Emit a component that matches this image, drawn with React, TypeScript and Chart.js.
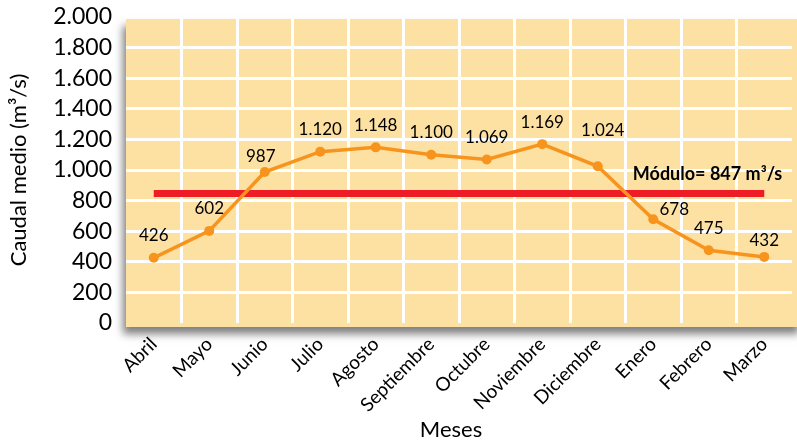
import React, { useEffect, useRef } from "react";
import { Chart, registerables } from "chart.js";

Chart.register(...registerables);

// ---- data ----
const meses = [
  "Abril", "Mayo", "Junio", "Julio", "Agosto", "Septiembre",
  "Octubre", "Noviembre", "Diciembre", "Enero", "Febrero", "Marzo",
];
const caudal = [426, 602, 987, 1120, 1148, 1100, 1069, 1169, 1024, 678, 475, 432];
const modulo = 847;
const moduloLabel = "Módulo= 847 m³/s";
const yMin = 0;
const yMax = 2000;
const yStep = 200;
const yTitle = "Caudal medio (m³/s)";
const xTitle = "Meses";

// ---- style ----
const FONT = "Lato, 'Noto Sans', sans-serif";
const BG = "#FDE1A3";
const ORANGE = "#F7941D";
const RED = "#EE1C24";
// label nudges (style only) for a few value labels
const labelNudge: Record<string, [number, number]> = {
  Junio: [-4, 7],
  Diciembre: [5, -14],
  Enero: [21, 12],
  Marzo: [0, 6],
};

const fmt = (n: number) => String(n).replace(/\B(?=(\d{3})+(?!\d))/g, ".");

const bgPlugin = {
  id: "plotBg",
  beforeDraw(chart: any) {
    const { ctx, chartArea: a } = chart;
    ctx.save();
    ctx.shadowColor = "rgba(0,0,0,0.5)";
    ctx.shadowBlur = 8;
    ctx.shadowOffsetX = -3;
    ctx.shadowOffsetY = 7;
    ctx.fillStyle = BG;
    ctx.fillRect(a.left, a.top + 2, a.right - a.left + 10, a.bottom - a.top + 2);
    ctx.restore();
  },
};

const textPlugin = {
  id: "texts",
  afterDatasetsDraw(chart: any) {
    const { ctx } = chart;
    const meta = chart.getDatasetMeta(0);
    ctx.save();
    ctx.fillStyle = "#000";
    ctx.textAlign = "center";
    ctx.textBaseline = "middle";
    ctx.font = `17px ${FONT}`;
    meta.data.forEach((pt: any, i: number) => {
      const n = labelNudge[meses[i]] || [0, 0];
      ctx.fillText(fmt(caudal[i]), pt.x + n[0], pt.y - 22 + n[1]);
    });
    // modulo label
    const xs = chart.scales.x;
    const ys = chart.scales.y;
    ctx.font = `bold 18px ${FONT}`;
    ctx.textAlign = "right";
    ctx.fillText(moduloLabel, xs.getPixelForValue(meses.length - 1) + 18, ys.getPixelForValue(modulo) - 19);
    // axis titles
    ctx.font = `22px ${FONT}`;
    ctx.textAlign = "center";
    ctx.fillText(xTitle, 451, 430);
    ctx.translate(19, 170);
    ctx.rotate(-Math.PI / 2);
    ctx.fillText(yTitle, 0, 0);
    ctx.restore();
  },
};

export default function App() {
  const ref = useRef<HTMLCanvasElement>(null);
  useEffect(() => {
    if (!ref.current) return;
    const chart = new Chart(ref.current, {
      type: "line",
      data: {
        labels: meses,
        datasets: [
          {
            label: "Caudal",
            data: caudal,
            borderColor: ORANGE,
            backgroundColor: ORANGE,
            borderWidth: 3.5,
            pointRadius: 5,
            pointBorderWidth: 0,
            pointBackgroundColor: ORANGE,
            tension: 0,
            order: 1,
          },
          {
            label: "Módulo",
            data: [
              { x: meses[0], y: modulo },
              { x: meses[meses.length - 1], y: modulo },
            ] as any,
            borderColor: RED,
            borderWidth: 7,
            pointRadius: 0,
            order: 2,
          },
        ],
      },
      options: {
        responsive: false,
        animation: false,
        layout: { padding: { top: 17, left: 0, right: 0, bottom: 0 } },
        plugins: { legend: { display: false }, tooltip: { enabled: false } },
        scales: {
          x: {
            offset: true,
            grid: {
              offset: true,
              drawTicks: false,
              lineWidth: 3,
              color: (c: any) => (c.index === undefined || c.index === 0 ? "rgba(0,0,0,0)" : "#ffffff"),
            },
            border: { display: false },
            ticks: {
              color: "#000",
              font: { family: FONT, size: 19 },
              minRotation: 45,
              maxRotation: 45,
              padding: 10,
              autoSkip: false,
            },
            afterFit(s: any) {
              s.height = 120;
              s.paddingLeft = 0;
              s.paddingRight = 0;
            },
          },
          y: {
            min: yMin,
            max: yMax,
            grid: {
              drawTicks: false,
              lineWidth: 3,
              color: (c: any) =>
                c.tick && (c.tick.value === yMin || c.tick.value === yMax) ? "rgba(0,0,0,0)" : "#ffffff",
            },
            border: { display: false },
            ticks: {
              stepSize: yStep,
              autoSkip: false,
              color: "#000",
              font: { family: FONT, size: 23, lineHeight: 1 },
              padding: 14,
              callback: (v: any) => fmt(Number(v)),
            },
            afterFit(s: any) {
              s.width = 126;
              s.paddingTop = 0;
              s.paddingBottom = 0;
            },
          },
        },
      },
      plugins: [bgPlugin, textPlugin],
    });
    return () => chart.destroy();
  }, []);
  return (
    <div style={{ position: "fixed", left: 0, top: 0, width: 797, height: 443, background: "#fff" }}>
      <canvas ref={ref} width={797} height={443} style={{ display: "block" }} />
    </div>
  );
}
